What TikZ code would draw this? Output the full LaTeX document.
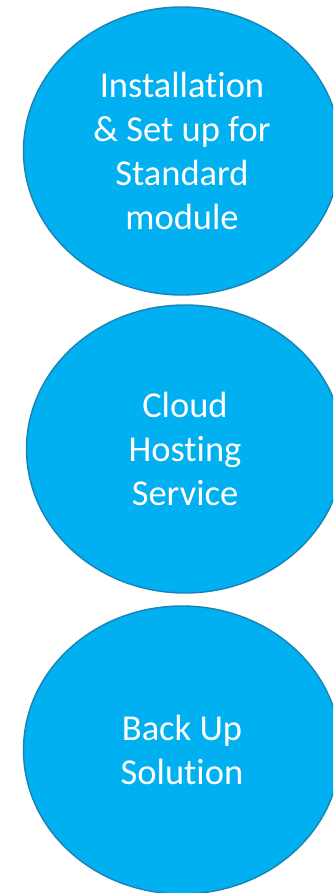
\documentclass[tikz,border=0pt]{standalone}
\usepackage{fontspec}
\setmainfont[Ligatures=NoCommon]{Carlito}
\usetikzlibrary{shapes.geometric}
\definecolor{bubblefill}{HTML}{00B0F0}
\definecolor{bubbleline}{HTML}{1A82B4}
\tikzset{
  bubble/.style={ellipse, draw=bubbleline, fill=bubblefill, line width=1.4pt,
    minimum width=317pt, minimum height=288pt, inner sep=0pt,
    text=white, align=center,
    font=\fontsize{36.5pt}{44pt}\selectfont}
}
\begin{document}
\begin{tikzpicture}[x=1pt,y=-1pt]
\useasboundingbox (0,0) rectangle (333,893);
\clip (0,0) rectangle (333,893);
\node[bubble] (install) at (182,151) {Installation\\\& Set up for\\Standard\\module};
\node[bubble] (cloud) at (185,449) {Cloud\\Hosting\\Service};
\node[bubble] (backup) at (182,750) {Back Up\\Solution};
\end{tikzpicture}
\end{document}
